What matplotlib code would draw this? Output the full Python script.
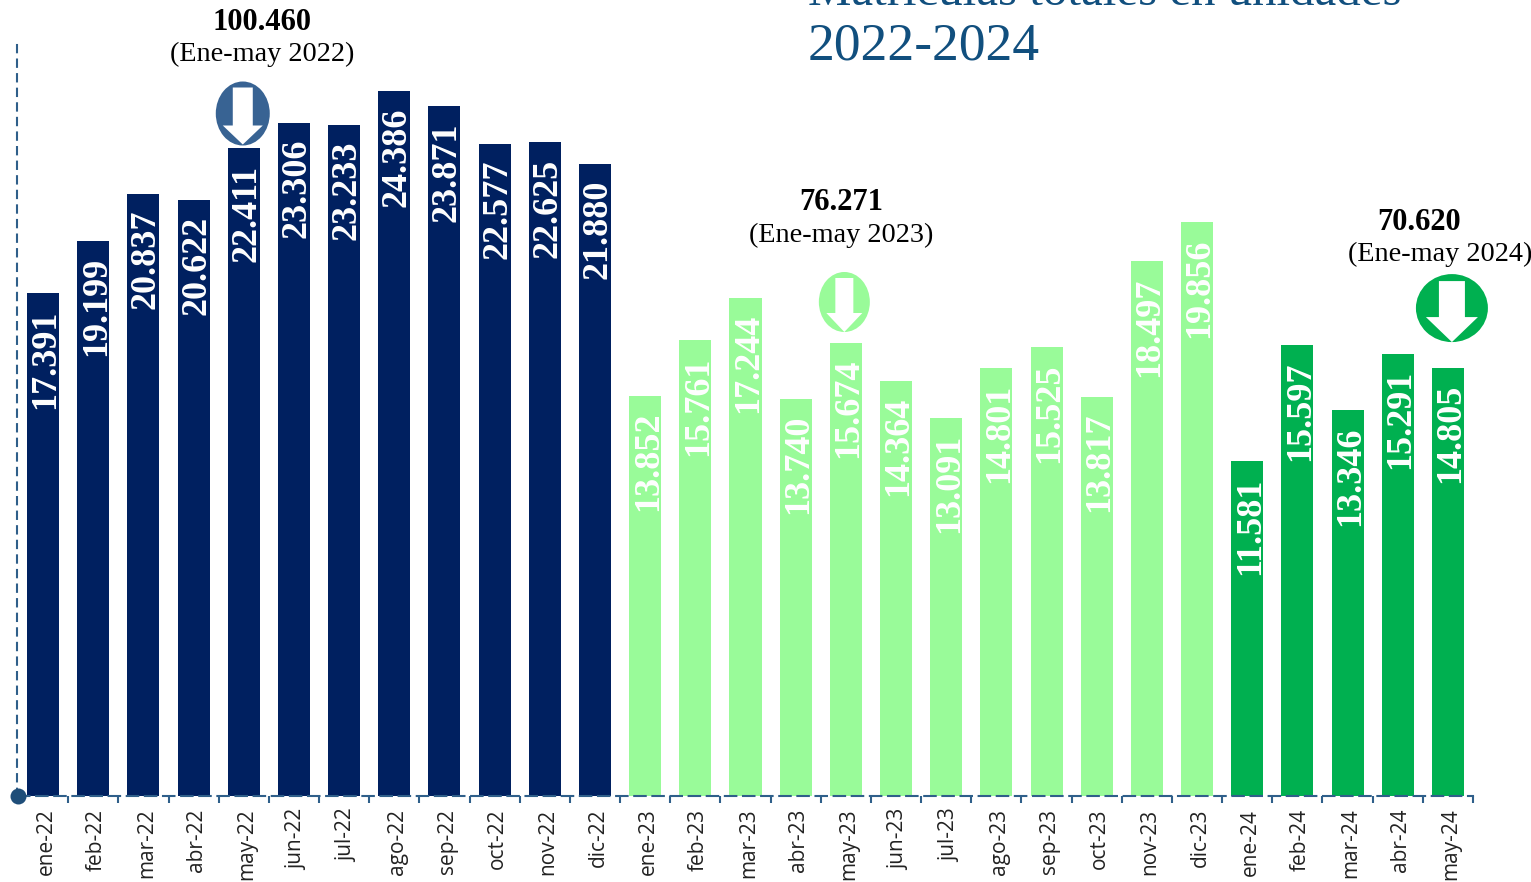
import matplotlib
matplotlib.use("Agg")
import matplotlib.pyplot as plt
from matplotlib.patches import Ellipse, Polygon
from matplotlib.transforms import Affine2D, ScaledTranslation

months = ["ene", "feb", "mar", "abr", "may", "jun", "jul", "ago", "sep", "oct", "nov", "dic"]
labels_2022 = [f"{m}-22" for m in months]
labels_2023 = [f"{m}-23" for m in months]
labels_2024 = [f"{m}-24" for m in months[:5]]
values_2022 = [17391, 19199, 20837, 20622, 22411, 23306, 23233, 24386, 23871, 22577, 22625, 21880]
values_2023 = [13852, 15761, 17244, 13740, 15674, 14364, 13091, 14801, 15525, 13817, 18497, 19856]
values_2024 = [11581, 15597, 13346, 15291, 14805]
totals = ["100.460", "76.271", "70.620"]
periods = ["(Ene-may 2022)", "(Ene-may 2023)", "(Ene-may 2024)"]
title_lines = ["Matrículas totales en unidades", "2022-2024"]

W, H = 1531, 882
DPI = 100
PT = 72 / DPI
SERIF = "Liberation Serif"
C22, C23, C24 = "#002060", "#99FB99", "#00B050"
AXC = "#2F5F8A"

fig = plt.figure(figsize=(W / DPI, H / DPI), dpi=DPI, facecolor="white")
ax = fig.add_axes([18 / W, (H - 795.5) / H, 1455 / W, 750.5 / H])

labels = labels_2022 + labels_2023 + labels_2024
values = values_2022 + values_2023 + values_2024
colors = [C22] * len(values_2022) + [C23] * len(values_2023) + [C24] * len(values_2024)
xs = list(range(len(values)))

ax.bar(xs, values, width=0.638, color=colors, zorder=2)
ax.set_xlim(-0.5, len(values) - 0.5)
ax.set_ylim(0, 25996)

for x, v in zip(xs, values):
    s = f"{v:,}".replace(",", ".")
    ax.annotate(s, (x, v), xytext=(3 * PT, -16 * PT), textcoords="offset points",
                ha="center", va="top", rotation=90, color="white",
                family=SERIF, weight="bold", fontsize=26, zorder=3)

for s in ("top", "right"):
    ax.spines[s].set_visible(False)
for s, dash in (("left", (3.5, 3.5)), ("bottom", (5.5, 3.2))):
    ax.spines[s].set_linestyle((0, dash))
    ax.spines[s].set_linewidth(1.5)
    ax.spines[s].set_color(AXC)
ax.spines["left"].set_position(("outward", 1))

ax.set_yticks([])
ax.set_xticks(xs, labels, rotation=90, family="Open Sans", fontsize=15, color="#222222")
ax.tick_params(axis="x", which="major", length=0, pad=9.5)
label_shift = Affine2D().translate(3, 0)
for t in ax.get_xticklabels():
    t.set_transform(t.get_transform() + label_shift)
ax.set_xticks([i - 0.5 for i in range(len(values) + 1)], minor=True)
ax.tick_params(axis="x", which="minor", length=5, width=1.5, color=AXC)

ax.plot([-0.5], [0], "o", ms=11.5, mew=0, color="#1F4E79", clip_on=False, zorder=5)

# callouts: bar index, ellipse dx, dy, w, h, colour, shaft half, head half, top, neck, tip,
# total dx, period dx, total dy, period dy  (all in pixels from the bar top)
callouts = [
    (4, -1, 35, 54, 64, "#386393", 10, 20, 61, 23, 4, 18, 18, 128, 96),
    (16, -1.5, 41, 51, 60, C23, 9, 18, 65, 30, 11, -5, -5, 142, 110),
    (28, 4, 60, 72, 68, C24, 13, 26, 87, 51, 26, -29, -8, 148, 116),
]
for (i, dx, dy, w, h, col, sh, hd, top, neck, tip, tx1, tx2, ty1, ty2), tot, per in zip(callouts, totals, periods):
    tr = ScaledTranslation(i, values[i], ax.transData)
    ax.add_patch(Ellipse((dx, dy), w, h, fc=col, ec="none", transform=tr, clip_on=False, zorder=4))
    pts = [(dx - sh, top), (dx + sh, top), (dx + sh, neck), (dx + hd, neck), (dx, tip),
           (dx - hd, neck), (dx - sh, neck)]
    ax.add_patch(Polygon(pts, closed=True, fc="white", ec="none", transform=tr, clip_on=False, zorder=5))
    ax.annotate(tot, (i, values[i]), xytext=(tx1 * PT, (ty1 - 2) * PT),
                textcoords="offset points", ha="center", va="center", family=SERIF,
                weight="bold", fontsize=22, color="black", annotation_clip=False)
    ax.annotate(per, (i, values[i]), xytext=(tx2 * PT, (ty2 - 2) * PT),
                textcoords="offset points", ha="center", va="center", family=SERIF,
                fontsize=20.3, color="black", annotation_clip=False)

fig.text(808 / W, 1 - 5 / H, title_lines[0], family=SERIF, fontsize=35.2, color="#114F7E",
         ha="left", va="baseline")
fig.text(808 / W, 1 - 59 / H, title_lines[1], family=SERIF, fontsize=38.5, color="#114F7E",
         ha="left", va="baseline")

fig.savefig("out.png", dpi=DPI, facecolor="white")
